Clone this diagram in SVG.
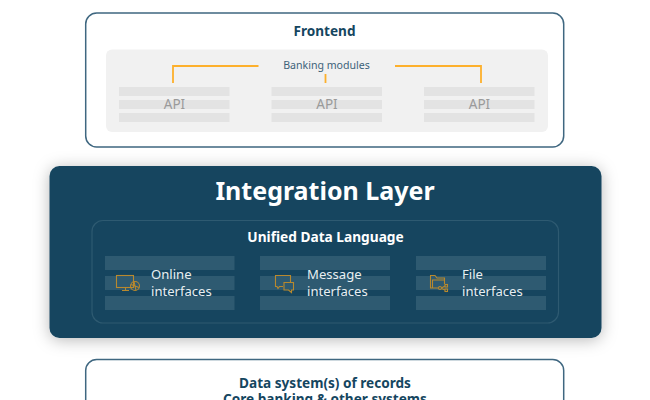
<svg xmlns="http://www.w3.org/2000/svg" width="650" height="400" viewBox="0 0 650 400">
<style>
text{font-family:"Noto Sans","Open Sans","Liberation Sans",sans-serif;text-anchor:middle}
.box{fill:#fff;stroke:#3f6780;stroke-width:1.5}
.title{font-weight:700;fill:#15465f;font-size:13.6px}
.bar{fill:#e3e3e3}
.api{fill:#9a9a9a;font-size:13.5px}
.dbar{fill:#2e5a71}
.lab{fill:#e8eef1;font-size:13.1px;text-anchor:start}
.o{fill:none;stroke:#fdb02c;stroke-width:1.8}
.ic{fill:none;stroke:#b8892e;stroke-width:1.1}
</style>
<defs><filter id="sh" x="-10%" y="-20%" width="120%" height="140%"><feDropShadow dx="0" dy="2" stdDeviation="8" flood-color="#000" flood-opacity=".28"/></filter></defs>
<g id="frontend">
<rect class="box" x="85.7" y="13" width="478" height="134" rx="11"/>
<text class="title" x="324.500" y="36">Frontend</text>
<rect x="106" y="49.500" width="442" height="82.500" rx="6" fill="#f1f1f1"/>
<text x="326.500" y="68.500" font-size="10.600px" fill="#3c6279">Banking modules</text>
<g class="bar">
<rect x="119" y="87" width="110.500" height="9"/><rect x="119" y="100" width="110.500" height="9"/><rect x="119" y="113" width="110.500" height="9"/>
<rect x="271.500" y="87" width="110.500" height="9"/><rect x="271.500" y="100" width="110.500" height="9"/><rect x="271.500" y="113" width="110.500" height="9"/>
<rect x="424" y="87" width="110.500" height="9"/><rect x="424" y="100" width="110.500" height="9"/><rect x="424" y="113" width="110.500" height="9"/>
</g>
<text class="api" x="174.500" y="109">API</text><text class="api" x="327" y="109">API</text><text class="api" x="479.500" y="109">API</text>
</g>
<g id="connectors">
<path class="o" d="M173 83V66H258.500"/><path class="o" d="M325.500 74V83"/><path class="o" d="M395 66H481V83"/>
</g>
<g id="integration">
<rect x="49.500" y="166" width="552" height="172" rx="10" fill="#14455f" filter="url(#sh)"/>
<text x="325" y="200" font-size="25px" font-weight="700" fill="#fff">Integration Layer</text>
<rect x="92" y="220.500" width="466.500" height="102.500" rx="11" fill="none" stroke="#2e5a71" stroke-width="1.200"/>
<text x="325.500" y="242" font-size="13.700px" font-weight="700" fill="#fff">Unified Data Language</text>
</g>
<g id="online">
<g class="dbar"><rect x="105" y="256" width="129.500" height="14"/><rect x="105" y="276" width="129.500" height="14"/><rect x="105" y="296" width="129.500" height="14"/></g>
<g class="ic"><rect x="116.500" y="275.500" width="17" height="12"/><path d="M122 290.500H129M125.500 287.500V290.500"/><circle cx="135" cy="286" r="4.500"/><path d="M131 284.500L139 287.500M134 281.500L136 290.500"/></g>
<text class="lab" x="151" y="279">Online</text><text class="lab" x="151" y="296">interfaces</text>
</g>
<g id="message">
<g class="dbar"><rect x="260" y="256" width="130" height="14"/><rect x="260" y="276" width="130" height="14"/><rect x="260" y="296" width="130" height="14"/></g>
<g class="ic"><path d="M283 286.500H279.500L278 288.500L277 286.500H275.500V275.500H290.500V282"/><path d="M284 282.500H293.500V290H291.500V292.500L288.500 290H284Z"/></g>
<text class="lab" x="307" y="279">Message</text><text class="lab" x="307" y="296">interfaces</text>
</g>
<g id="file">
<g class="dbar"><rect x="416" y="256" width="130" height="14"/><rect x="416" y="276" width="130" height="14"/><rect x="416" y="296" width="130" height="14"/></g>
<g class="ic"><path d="M438 288H430.500V275.500H435L437 278H444.500V284"/><path d="M432.500 288V280H444.500"/><circle cx="440" cy="288" r="1.500"/><rect x="445" y="284.500" width="2.500" height="2.500"/><rect x="445" y="289" width="2.500" height="2.500"/><path d="M441.500 288L445 286M441.500 288.500L445 290"/></g>
<text class="lab" x="462" y="279">File</text><text class="lab" x="462" y="296">interfaces</text>
</g>
<g id="records">
<rect class="box" x="85.700" y="359.500" width="478" height="60" rx="11"/>
<text class="title" x="325" y="388">Data system(s) of records</text>
<text class="title" x="325" y="404">Core banking &amp; other systems</text>
</g>
</svg>
